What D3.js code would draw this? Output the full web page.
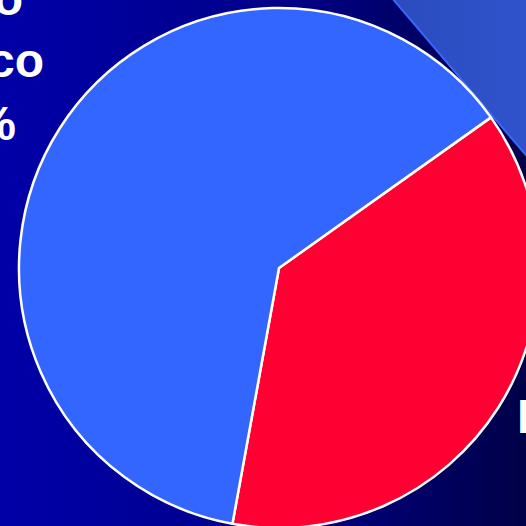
<!DOCTYPE html>
<html>
<head>
<meta charset="utf-8">
<script src="https://cdn.jsdelivr.net/npm/d3@7"></script>
<style>
  html, body { margin: 0; padding: 0; overflow: hidden; background: #000080; }
  svg { display: block; }
</style>
</head>
<body>
<svg id="chart"></svg>
<script>
// Slice values (percent)
const sliceNames = ["red", "blue"];
const sliceValues = [37.7, 62.3];
const sliceColors = ["#ff0033", "#3366ff"];

// Text fragments visible at the slide edges
const leftLabels = ["o", "co", "%"];
const rightLabels = ["P"];

const width = 526;
const height = 526;

const svg = d3.select("#chart")
  .attr("width", width)
  .attr("height", height);

// Background gradient (slide backdrop)
const defs = svg.append("defs");
const bg = defs.append("linearGradient")
  .attr("id", "bg")
  .attr("x1", "0%").attr("x2", "100%")
  .attr("y1", "0%").attr("y2", "0%");
bg.append("stop").attr("offset", "0%").attr("stop-color", "#0000a8");
bg.append("stop").attr("offset", "55%").attr("stop-color", "#000088");
bg.append("stop").attr("offset", "100%").attr("stop-color", "#000048");

const shapeGrad = defs.append("linearGradient")
  .attr("id", "shape")
  .attr("x1", "0%").attr("x2", "100%")
  .attr("y1", "0%").attr("y2", "0%");
shapeGrad.append("stop").attr("offset", "0%").attr("stop-color", "#2b4cbf");
shapeGrad.append("stop").attr("offset", "100%").attr("stop-color", "#3053cc");

svg.append("rect")
  .attr("width", width)
  .attr("height", height)
  .attr("fill", "url(#bg)");

// Decorative blue shape in the top-right corner
svg.append("path")
  .attr("d", "M392,-2 L530,-2 L530,160 Z")
  .attr("fill", "url(#shape)")
  .attr("stroke", "#3a66ff")
  .attr("stroke-width", 2);

// Pie
const cx = 279, cy = 268, radius = 260;

const pie = d3.pie()
  .sort(null)
  .value(d => d)
  .startAngle(54.6 * Math.PI / 180)
  .endAngle(54.6 * Math.PI / 180 + 2 * Math.PI);

const arc = d3.arc()
  .innerRadius(0)
  .outerRadius(radius);

const g = svg.append("g")
  .attr("transform", `translate(${cx},${cy})`);

g.selectAll("path.slice")
  .data(pie(sliceValues))
  .join("path")
  .attr("class", "slice")
  .attr("d", arc)
  .attr("fill", (d, i) => sliceColors[i])
  .attr("stroke", "#ffffff")
  .attr("stroke-width", 2.5)
  .attr("stroke-linejoin", "round");

// Label text, cut by the slide edges
const leftPos = [[23, 15], [44, 77], [16, 140]];
svg.selectAll("text.left")
  .data(leftLabels)
  .join("text")
  .attr("class", "left")
  .attr("x", (d, i) => leftPos[i][0])
  .attr("y", (d, i) => leftPos[i][1])
  .attr("text-anchor", "end")
  .attr("fill", "#ffffff")
  .style("font-family", "'Liberation Sans', Arial, sans-serif")
  .style("font-weight", "bold")
  .style("font-size", "48px")
  .text(d => d);

svg.selectAll("text.right")
  .data(rightLabels)
  .join("text")
  .attr("class", "right")
  .attr("x", 517)
  .attr("y", 433)
  .attr("fill", "#ffffff")
  .style("font-family", "'Liberation Sans', Arial, sans-serif")
  .style("font-weight", "bold")
  .style("font-size", "48px")
  .text(d => d);
</script>
</body>
</html>
